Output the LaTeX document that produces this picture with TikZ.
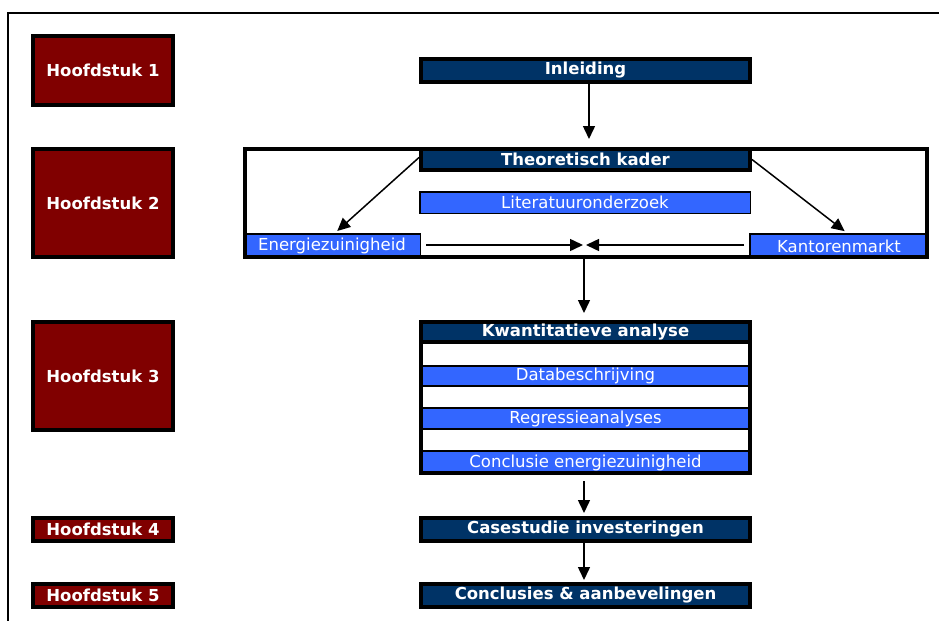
\documentclass[tikz,border=0pt]{standalone}
\usepackage{fontspec}
\setmainfont{DejaVu Sans}
\usetikzlibrary{arrows.meta}
\definecolor{hred}{HTML}{800000}
\definecolor{navy}{HTML}{003366}
\definecolor{lblue}{HTML}{3366FF}
\begin{document}
\begin{tikzpicture}[x=1pt,y=-1pt,
  hbox/.style={fill=hred,draw=black,line width=4pt,text=white,font=\fontsize{16.5}{18}\selectfont\bfseries,inner sep=0pt,minimum width=140pt},
  navybox/.style={fill=navy,draw=black,line width=4pt,text=white,font=\fontsize{16.5}{18}\selectfont\bfseries,inner sep=0pt,minimum width=329pt},
  bluebox/.style={fill=lblue,draw=black,line width=1.5pt,text=white,font=\fontsize{16.5}{18}\selectfont,inner sep=0pt},
  frame/.style={draw=black,line width=4pt,inner sep=0pt},
  arr/.style={draw=black,line width=1.5pt,-{Triangle[length=13pt,width=12pt]}}
]
\useasboundingbox (0,0) rectangle (939,621);
% outer frame
\draw[line width=2pt] (939,13) -- (8,13) -- (8,621);

% Hoofdstuk boxes
\node[hbox,minimum height=69pt] (h1) at (103,70.5) {Hoofdstuk 1};
\node[hbox,minimum height=108pt] (h2) at (103,203) {Hoofdstuk 2};
\node[hbox,minimum height=108pt] (h3) at (103,376) {Hoofdstuk 3};
\node[hbox,minimum height=23pt] (h4) at (103,529.5) {Hoofdstuk 4};
\node[hbox,minimum height=23pt] (h5) at (103,595.5) {Hoofdstuk 5};

% Inleiding
\node[navybox,minimum height=23pt] (inl) at (585.5,70.5) {Inleiding};

% Theoretisch kader block
\node[bluebox,minimum width=176.5pt,minimum height=24.5pt] (ez) at (332,246) {Energiezuinigheid};
\node[bluebox,minimum width=178.5pt,minimum height=24.5pt] (km) at (839,246) {Kantorenmarkt};
\node[bluebox,minimum width=330.5pt,minimum height=21.5pt] (lit) at (585,202.5) {Literatuuronderzoek};
\node[frame,minimum width=682pt,minimum height=108pt] (cont) at (586,203) {};
\node[navybox,minimum height=21pt] (tk) at (585.5,159.5) {Theoretisch kader};

% Kwantitatieve block
\node[bluebox,minimum width=327pt,minimum height=20pt] (db) at (585.5,376) {Databeschrijving};
\node[bluebox,minimum width=327pt,minimum height=21pt] (ra) at (585.5,418.5) {Regressieanalyses};
\node[bluebox,minimum width=327pt,minimum height=23pt] (ce) at (585.5,462.5) {Conclusie energiezuinigheid};
\node[frame,minimum width=329pt,minimum height=151pt] (kwbox) at (585.5,397.5) {};
\node[navybox,minimum height=20pt] (kw) at (585.5,332) {Kwantitatieve analyse};

% Bottom boxes
\node[navybox,minimum height=23pt] (cs) at (585.5,529.5) {Casestudie investeringen};
\node[navybox,minimum height=23pt] (cc) at (585.5,595.5) {Conclusies \& aanbevelingen};

% helper coordinates
\coordinate (cx) at (584,0);
\coordinate (ix) at (589,0);
\coordinate (mL) at (583,245);
\coordinate (mR) at (586,245);

% arrows
\draw[arr,shorten >=8pt] (inl.south -| ix) -- (tk.north -| ix);
\draw[arr,shorten >=3pt] ([yshift=2pt]tk.west) -- ([xshift=3pt]ez.north);
\draw[arr,shorten >=3pt] (tk.east) -- ([xshift=8pt]km.north);
\draw[arr,shorten <=5pt] (ez.east |- mL) -- (mL);
\draw[arr,shorten <=5pt] (km.west |- mR) -- (mR);
\draw[arr,shorten >=7pt] (cont.south -| cx) -- (kw.north -| cx);
\draw[arr,shorten <=6pt,shorten >=3pt] (kwbox.south -| cx) -- (cs.north -| cx);
\draw[arr,shorten >=2pt] (cs.south -| cx) -- (cc.north -| cx);
\end{tikzpicture}
\end{document}
